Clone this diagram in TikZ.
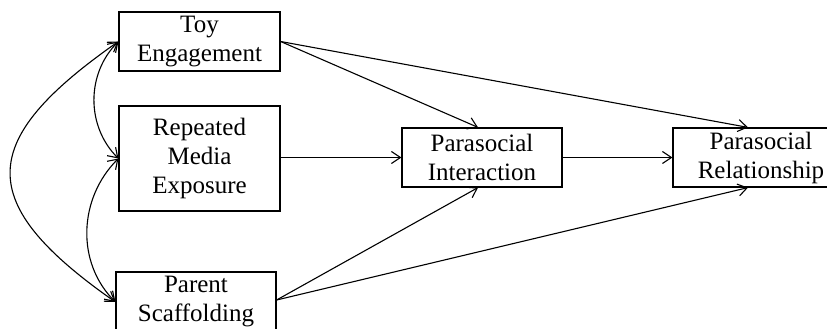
\documentclass[tikz,border=0pt]{standalone}
\usepackage{fontspec}
\setmainfont{Liberation Serif}
\usetikzlibrary{arrows.meta}
\begin{document}
\begin{tikzpicture}[x=1pt,y=1pt,
  >={Straight Barb[length=9pt,width=12pt]},
  box/.style={draw, line width=1.2pt, inner sep=0pt, align=center,
    font=\fontsize{25}{29}\selectfont},
  conn/.style={line width=1.1pt, ->},
  cov/.style={line width=1.1pt, <->}]
\useasboundingbox (0,0) rectangle (827,329);
\fill[white] (0,0) rectangle (827,329);
\node[box, minimum width=161pt, minimum height=59pt] (toy) at (199.5,287.5) {Toy\\Engagement};
\node[box, minimum width=161pt, minimum height=105pt] (rep) at (199.5,170.5) {Repeated\\Media\\Exposure};
\node[box, minimum width=160pt, minimum height=60pt] (par) at (196,27) {Parent\\Scaffolding};
\node[box, minimum width=160pt, minimum height=59pt] (pi) at (482,171.5) {Parasocial\\Interaction};
\node[box, minimum width=176pt, minimum height=59pt] (pr) at (761,171.5) {Parasocial\\Relationship};
% paths
\draw[conn] (toy.east) -- ([xshift=-4pt]pi.north);
\draw[conn] (toy.east) -- ([xshift=-13pt]pr.north);
\draw[conn] (rep.east |- pi.west) -- (pi.west);
\draw[conn] (pi.east) -- (pr.west);
\draw[conn] ([yshift=2pt]par.east) -- ([xshift=-4pt]pi.south);
\draw[conn] ([yshift=2pt]par.east) -- ([xshift=-13pt]pr.south);
% covariances
\draw[cov] (toy.west) to[out=215, in=145, looseness=1.7] (par.west);
\draw[cov] (toy.west) to[out=225, in=135] (rep.west);
\draw[cov] (rep.west) to[out=225, in=135] (par.west);
\end{tikzpicture}
\end{document}
